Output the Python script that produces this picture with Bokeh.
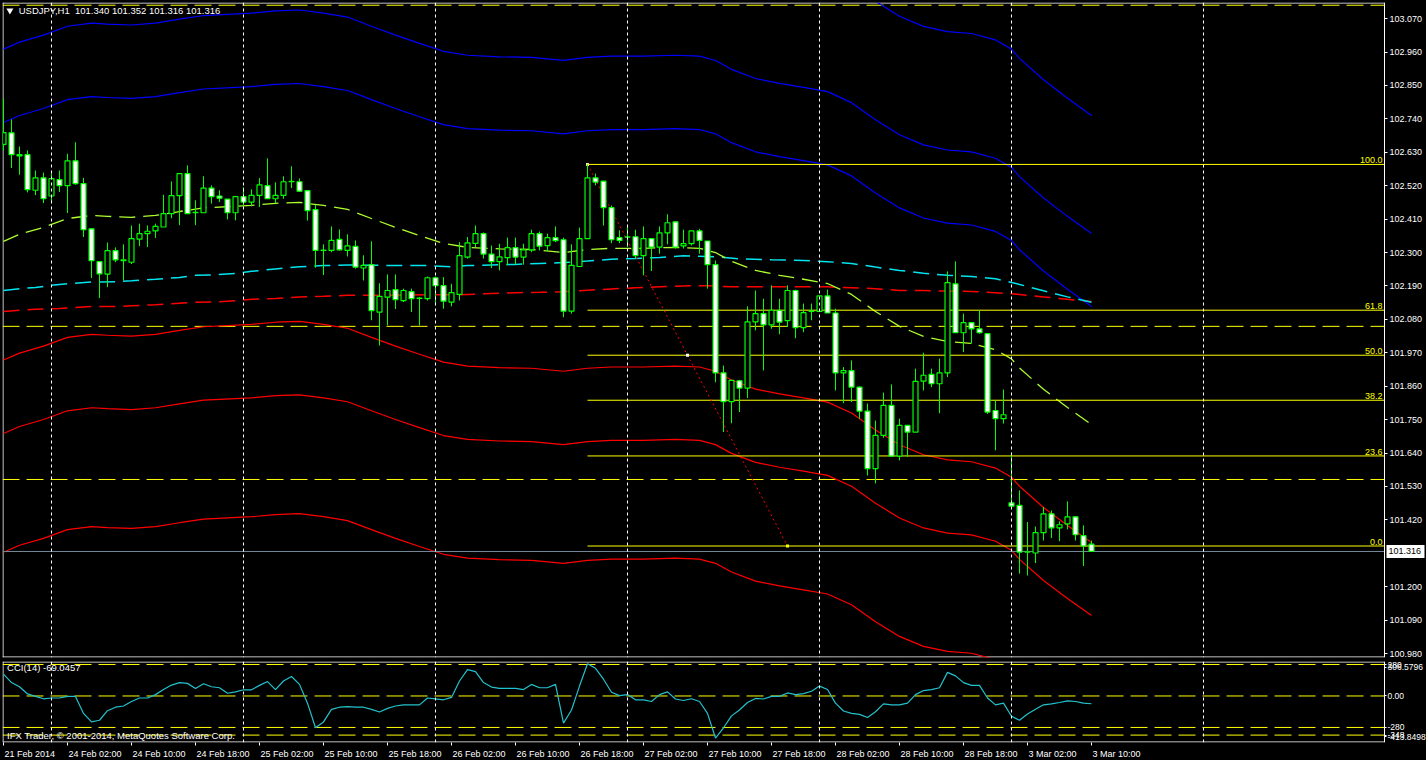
from bokeh.plotting import figure
from bokeh.models import (Range1d, LinearAxis, FixedTicker, Span,
                          ColumnDataSource, NumeralTickFormatter)
from bokeh.layouts import column
from bokeh.embed import file_html
from bokeh.resources import INLINE
from bokeh.core.properties import value

# ---------------- data ----------------
symbol_header = "USDJPY,H1\u00a0\u00a0101.340 101.352 101.316 101.316"

opens = [102.656,102.694,102.622,102.622,102.505,102.546,102.486,102.540,102.520,102.602,
         102.527,102.378,102.270,102.229,102.306,102.273,102.268,102.344,102.362,102.371,
         102.384,102.428,102.487,102.560,102.431,102.431,102.512,102.486,102.476,102.431,
         102.484,102.466,102.488,102.520,102.477,102.488,102.533,102.533,102.504,102.441,
         102.307,102.307,102.343,102.307,102.320,102.249,102.260,102.104,102.153,102.178,
         102.142,102.171,102.149,102.148,102.217,102.191,102.137,102.162,102.285,102.330,
         102.362,102.295,102.270,102.283,102.316,102.285,102.309,102.362,102.323,102.349,
         102.342,102.107,102.254,102.346,102.546,102.535,102.448,102.349,102.351,102.352,
         102.290,102.346,102.318,102.365,102.401,102.322,102.329,102.371,102.338,102.260,
         101.904,101.809,101.878,101.854,102.072,102.099,102.062,102.110,102.076,102.175,
         102.053,102.106,102.106,102.157,102.101,101.904,101.911,101.857,101.778,101.589,
         101.698,101.797,101.630,101.731,101.709,101.877,101.899,101.868,101.904,102.197,
         102.036,102.069,102.049,102.033,101.780,101.753,101.476,101.468,101.314,101.311,
         101.378,101.440,101.394,101.407,101.430,101.368,101.340]
highs = [102.807,102.738,102.649,102.636,102.570,102.563,102.560,102.570,102.625,102.663,
         102.546,102.379,102.271,102.333,102.317,102.327,102.389,102.395,102.389,102.395,
         102.490,102.534,102.560,102.587,102.472,102.551,102.521,102.505,102.476,102.484,
         102.515,102.508,102.545,102.610,102.531,102.551,102.584,102.544,102.504,102.457,
         102.327,102.386,102.376,102.360,102.340,102.291,102.337,102.199,102.228,102.228,
         102.181,102.181,102.153,102.221,102.221,102.219,102.197,102.334,102.351,102.389,
         102.366,102.323,102.329,102.349,102.349,102.329,102.375,102.369,102.362,102.386,
         102.349,102.327,102.382,102.590,102.560,102.535,102.455,102.373,102.389,102.375,
         102.386,102.346,102.386,102.426,102.401,102.375,102.371,102.378,102.338,102.274,
         101.928,101.879,101.881,102.123,102.175,102.148,102.192,102.148,102.192,102.178,
         102.132,102.132,102.157,102.178,102.115,101.923,101.945,101.859,101.803,101.747,
         101.839,101.866,101.753,101.731,101.918,101.970,101.918,101.951,102.238,102.271,
         102.099,102.069,102.110,102.033,101.813,101.849,101.642,101.517,101.413,101.398,
         101.462,101.451,101.415,101.481,101.430,101.402,101.352]
lows = [102.636,102.578,102.556,102.498,102.489,102.463,102.463,102.499,102.430,102.523,
        102.351,102.216,102.150,102.186,102.268,102.208,102.262,102.321,102.318,102.348,
        102.384,102.413,102.390,102.428,102.390,102.431,102.461,102.466,102.409,102.406,
        102.452,102.452,102.450,102.477,102.462,102.477,102.512,102.499,102.405,102.250,
        102.226,102.301,102.307,102.287,102.247,102.208,102.077,101.994,102.060,102.114,
        102.137,102.104,102.060,102.142,102.126,102.115,102.123,102.142,102.280,102.318,
        102.280,102.249,102.241,102.258,102.260,102.260,102.301,102.307,102.305,102.334,
        102.087,102.099,102.252,102.346,102.521,102.389,102.331,102.331,102.318,102.282,
        102.225,102.239,102.296,102.327,102.313,102.313,102.323,102.296,102.181,101.873,
        101.709,101.738,101.775,101.821,102.044,101.912,102.049,102.031,102.055,102.018,
        102.038,102.077,102.106,102.101,101.846,101.804,101.808,101.753,101.566,101.540,
        101.690,101.627,101.616,101.627,101.709,101.846,101.857,101.771,101.890,102.036,
        101.972,102.000,102.033,101.769,101.649,101.737,101.457,101.243,101.237,101.278,
        101.352,101.360,101.350,101.389,101.352,101.268,101.316]
closes = [102.695,102.622,102.618,102.507,102.546,102.477,102.543,102.520,102.602,102.527,
          102.375,102.273,102.230,102.306,102.276,102.276,102.346,102.362,102.370,102.386,
          102.428,102.487,102.560,102.428,102.432,102.512,102.484,102.479,102.431,102.484,
          102.466,102.488,102.523,102.477,102.488,102.533,102.534,102.502,102.438,102.307,
          102.308,102.340,102.309,102.322,102.252,102.258,102.109,102.156,102.175,102.145,
          102.175,102.148,102.150,102.217,102.191,102.140,102.168,102.290,102.332,102.362,
          102.295,102.270,102.286,102.316,102.285,102.309,102.362,102.321,102.349,102.339,
          102.107,102.258,102.346,102.546,102.532,102.448,102.342,102.340,102.352,102.290,
          102.346,102.318,102.365,102.398,102.318,102.329,102.371,102.340,102.260,101.904,
          101.809,101.879,101.854,102.072,102.099,102.062,102.110,102.071,102.175,102.053,
          102.102,102.107,102.157,102.101,101.904,101.911,101.857,101.778,101.589,101.698,
          101.797,101.630,101.731,101.709,101.876,101.896,101.868,101.904,102.201,102.036,
          102.069,102.049,102.036,101.775,101.753,101.766,101.465,101.314,101.315,101.378,
          101.440,101.394,101.404,101.430,101.371,101.334,101.316]

cci_values = [194,119,82,18,-4,-25,-18,-18,-4,-4,-155,-231,-216,-131,-100,-89,-49,-18,-18,12,
              57,97,119,112,67,109,82,73,24,36,55,55,94,128,57,133,173,103,-64,-283,
              -231,-119,-100,-95,-100,-100,-119,-143,-110,-89,-79,-79,-79,-18,-25,-34,-13,133,234,217,
              119,79,67,67,67,57,103,73,73,103,-241,-125,88,286,246,149,33,3,12,-34,
              -34,-49,12,36,-27,-40,-25,-49,-155,-374,-283,-177,-125,-58,-22,-27,-4,-4,27,12,
              21,42,88,57,-64,-134,-155,-164,-192,-140,-70,-79,-79,-64,12,48,57,73,210,179,
              119,94,94,-18,-79,-64,-180,-216,-161,-119,-79,-70,-58,-43,-49,-64,-69.0457]

# moving averages (bar index, price)
ma_green_x = [0,2,5,8,11,13,16,19,22,25,31,34,37,40,43,46,49,52,55,58,62,66,70,73,76,80,84,87,89,91,94,97,100,103,106,109,112,115,118,121,124,126,127,130,133,136]
ma_green_y = [102.337,102.360,102.383,102.412,102.422,102.419,102.416,102.422,102.435,102.447,102.455,102.462,102.465,102.455,102.442,102.412,102.383,102.356,102.330,102.317,102.312,102.310,102.300,102.310,102.314,102.314,102.317,102.314,102.300,102.271,102.241,102.225,102.212,102.198,102.162,102.106,102.057,102.024,102.007,102.001,101.980,101.950,101.920,101.850,101.790,101.734]
ma_cyan_x = [0,2,4,6,8,11,14,16,19,22,24,26,29,31,34,37,40,43,46,50,53,56,58,61,64,67,70,73,76,79,82,85,89,92,96,100,103,106,109,112,115,118,121,124,127,130,133,136]
ma_cyan_y = [102.175,102.181,102.185,102.192,102.197,102.203,102.204,102.207,102.212,102.218,102.225,102.226,102.231,102.238,102.246,102.253,102.257,102.259,102.258,102.257,102.257,102.253,102.257,102.259,102.261,102.264,102.267,102.272,102.278,102.280,102.284,102.289,102.286,102.279,102.276,102.274,102.270,102.264,102.252,102.241,102.232,102.225,102.221,102.214,102.195,102.174,102.154,102.136]
ma_red_x = [0,2,4,7,9,11,14,16,19,22,24,26,29,31,34,37,40,43,46,54,57,61,64,67,70,73,76,79,82,85,88,91,100,103,106,109,112,115,118,121,124,127,130,133,136]
ma_red_y = [102.106,102.110,102.113,102.116,102.119,102.122,102.122,102.125,102.128,102.133,102.136,102.137,102.141,102.146,102.149,102.154,102.156,102.159,102.159,102.161,102.161,102.165,102.168,102.169,102.171,102.176,102.180,102.184,102.187,102.190,102.191,102.187,102.187,102.187,102.184,102.181,102.175,102.175,102.173,102.172,102.168,102.162,102.154,102.146,102.139]

# envelopes around the yellow-green average, deviation in percent
envelope_pcts = [0.382, 0.618, 1.0]

# fibonacci retracement
fib_x0, fib_x1 = 73, 98
fib_high, fib_low = 102.590, 101.334
fib_ratios = [0.0, 23.6, 38.2, 50.0, 61.8, 100.0]

# horizontal levels
dashed_levels = [103.114, 102.057, 101.553]
bid_price = 101.316

cci_levels = [280, 0, -280, -348]
cci_ticks = [280.0, 255.0, 0.0, -280.0, -348.0, -362.0]
cci_tick_labels = ["280", "306.5796", "0.00", "-280", "-348", "-413.8498"]

price_ticks = [103.070, 102.960, 102.850, 102.740, 102.630, 102.520, 102.410, 102.300, 102.190,
               102.080, 101.970, 101.860, 101.750, 101.640, 101.530, 101.420, 101.200, 101.090, 100.980]

day_lines = [6, 30, 54, 78, 102, 126, 150]
date_tick_pos = [0, 8, 16, 24, 32, 40, 48, 56, 64, 72, 80, 88, 96, 104, 112, 120, 128, 136]
date_tick_labels = ["21 Feb 2014", "24 Feb 02:00", "24 Feb 10:00", "24 Feb 18:00", "25 Feb 02:00",
                    "25 Feb 10:00", "25 Feb 18:00", "26 Feb 02:00", "26 Feb 10:00", "26 Feb 18:00",
                    "27 Feb 02:00", "27 Feb 10:00", "27 Feb 18:00", "28 Feb 02:00", "28 Feb 10:00",
                    "28 Feb 18:00", "3 Mar 02:00", "3 Mar 10:00"]

# ---------------- styling ----------------
FONT = "Liberation Sans"
PXB = 8.0                  # pixels per bar
FW = 1424                  # frame spans chart area and price scale
X0 = -0.125                # left edge of chart area
X1 = X0 + 1382 / PXB       # right edge of chart area (price scale line)
XR = X0 + FW / PXB
GREEN = "#00FF00"
YEL = "#FFFF00"

x_range = Range1d(X0, XR)

def base_fig(fh, y0, y1, top, bottom):
    f = figure(frame_width=FW, frame_height=fh, x_range=x_range, y_range=Range1d(y0, y1),
               output_backend="svg", toolbar_location=None,
               x_axis_location=None, y_axis_location=None,
               min_border_left=2, min_border_right=0, min_border_top=top, min_border_bottom=bottom,
               background_fill_color="black", border_fill_color="black",
               outline_line_color=None)
    f.grid.visible = False
    ex = 0.5 / PXB
    ey = 0.5 * (y1 - y0) / fh
    f.segment(x0=[X0 + ex, X0, X0], y0=[y0, y1 - ey, y0 + ey],
              x1=[X0 + ex, X1, X1], y1=[y1, y1 - ey, y0 + ey], line_color="white", line_width=1)
    for d in day_lines:
        f.add_layout(Span(location=d, dimension="height", line_color="white",
                          line_dash="3 3", line_width=1))
    return f

def style_axis(ax, size="9px"):
    ax.axis_line_color = "white"
    ax.major_tick_line_color = "white"
    ax.minor_tick_line_color = None
    ax.major_tick_in = 0
    ax.major_tick_out = 3
    ax.major_label_text_color = "white"
    ax.major_label_text_font = FONT
    ax.major_label_text_font_size = size
    ax.major_label_standoff = 2

def hlines(f, levels, **kw):
    f.segment(x0=[X0] * len(levels), y0=levels, x1=[X1] * len(levels), y1=levels, **kw)

# ---------------- main panel ----------------
main = base_fig(655, 100.967, 103.123, 2, 2)

pax = LinearAxis(ticker=FixedTicker(ticks=price_ticks), formatter=NumeralTickFormatter(format="0.000"),
                 fixed_location=X1)
style_axis(pax)
main.add_layout(pax, "right")

hlines(main, dashed_levels, line_color=YEL, line_dash="17 7", line_width=1)

# envelopes
for r in envelope_pcts:
    main.line(ma_green_x, [m * (1 + r / 100.0) for m in ma_green_y], line_color="#0000FF", line_width=1.2)
    main.line(ma_green_x, [m * (1 - r / 100.0) for m in ma_green_y], line_color="#FF0000", line_width=1.2)
main.line(ma_red_x, ma_red_y, line_color="#FF0000", line_width=1.5, line_dash="16 8")
main.line(ma_cyan_x, ma_cyan_y, line_color="#00E5F0", line_width=1.5, line_dash="16 8")
main.line(ma_green_x, ma_green_y, line_color="#ADFF2F", line_width=1.3, line_dash="16 8")

# fibonacci
fib_prices = [fib_low + (fib_high - fib_low) * r / 100.0 for r in fib_ratios]
main.segment(x0=[fib_x0] * len(fib_prices), y0=fib_prices, x1=[X1] * len(fib_prices), y1=fib_prices,
             line_color=YEL, line_width=1)
main.text(x=[X1 - 0.25] * len(fib_prices), y=fib_prices, text=["%.1f" % r for r in fib_ratios],
          text_align="right", text_baseline="bottom", text_color=YEL,
          text_font=value(FONT), text_font_size="9px", y_offset=-1)
main.line([fib_x0, fib_x1], [fib_high, fib_low], line_color="#FF0000", line_dash="2 3", line_width=1)
main.scatter([fib_x0], [fib_high], marker="square", size=3, fill_color="#FFE0A0", line_color=None)
main.scatter([(fib_x0 + fib_x1) / 2], [(fib_high + fib_low) / 2], marker="square", size=3,
             fill_color="white", line_color=None)
main.scatter([fib_x1], [fib_low], marker="square", size=3, fill_color=YEL, line_color=None)

# bid line
hlines(main, [bid_price], line_color="#778899", line_width=1)

# candles
idx = list(range(len(opens)))
src = ColumnDataSource(dict(
    x=idx, h=highs, l=lows,
    top=[max(o, c) for o, c in zip(opens, closes)],
    bot=[min(o, c) for o, c in zip(opens, closes)],
    fill=["black" if c > o else "white" for o, c in zip(opens, closes)],
))
main.segment(x0="x", y0="h", x1="x", y1="l", source=src, line_color=GREEN, line_width=1)
main.vbar(x="x", top="top", bottom="bot", width=0.62, source=src,
          fill_color="fill", line_color=GREEN, line_width=1.2)

# header
main.scatter([0.8], [103.097], marker="inverted_triangle", size=7, fill_color="white", line_color=None)
main.text(x=[1.9], y=[103.097], text=[symbol_header], text_baseline="middle", text_color="white",
          text_font=value(FONT), text_font_size="9.5px")

# current price box on the price scale
main.rect(x=[X1 + 21 / PXB], y=[bid_price], width=38, height=13, width_units="screen",
          height_units="screen", fill_color="white", line_color=None)
main.text(x=[X1 + 4 / PXB], y=[bid_price], text=["%.3f" % bid_price], text_baseline="middle",
          text_color="black", text_font=value(FONT), text_font_size="9px")

# ---------------- CCI panel ----------------
cfig = base_fig(81, -413.8498, 306.5796, 2, 16)
hlines(cfig, cci_levels, line_color=YEL, line_dash="17 7", line_width=1)
cfig.line(idx, cci_values, line_color="#22C2CC", line_width=1.2)
cfig.text(x=[0.45], y=[249], text=["CCI(14) -69.0457"], text_baseline="middle", text_color="white",
          text_font=value(FONT), text_font_size="9.5px")
cfig.text(x=[0.45], y=[-350], text=["IFX Trader, \u00a9 2001-2014, MetaQuotes Software Corp."],
          text_baseline="middle", text_color="white", text_font=value(FONT), text_font_size="9.5px")

cax = LinearAxis(ticker=FixedTicker(ticks=cci_ticks), fixed_location=X1,
                 major_label_overrides={t: s for t, s in zip(cci_ticks, cci_tick_labels)})
style_axis(cax, "8.5px")
cax.major_tick_out = 2
cax.major_label_standoff = 1
cfig.add_layout(cax, "right")

# date axis: labels start at the tick, as in the terminal
CW = {" ": 2.5, ":": 2.5, "F": 5.5, "e": 5.0, "b": 5.0, "M": 7.5, "a": 5.0, "r": 3.0}
centers = []
for pos, lab in zip(date_tick_pos, date_tick_labels):
    wpx = sum(CW.get(ch, 5.0) for ch in lab)
    centers.append(pos + (wpx / 2 + 1) / PXB)
xax = LinearAxis(ticker=FixedTicker(ticks=centers, minor_ticks=date_tick_pos),
                 major_label_overrides={c: s for c, s in zip(centers, date_tick_labels)})
xax.axis_line_color = None
xax.major_tick_line_color = None
xax.minor_tick_line_color = "white"
xax.minor_tick_in = 0
xax.minor_tick_out = 3
xax.major_label_text_color = "white"
xax.major_label_text_font = FONT
xax.major_label_text_font_size = "9px"
xax.major_label_standoff = 0
cfig.add_layout(xax, "below")

layout = column(main, cfig, spacing=0, background="black")
open("out.html", "w").write(file_html(layout, INLINE))
